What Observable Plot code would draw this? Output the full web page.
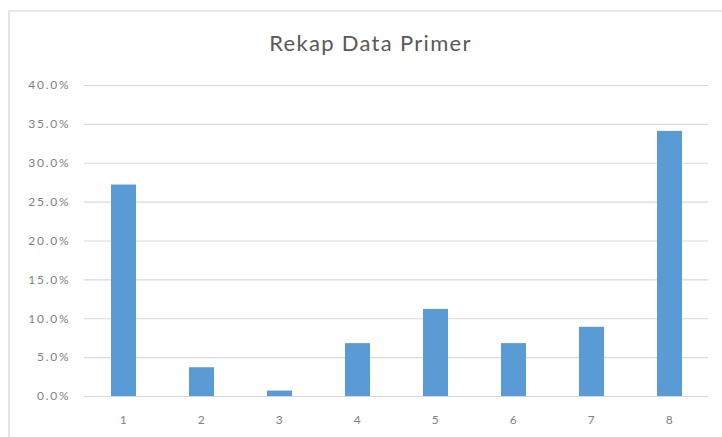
<!DOCTYPE html>
<html>
<head>
<meta charset="utf-8">
<script src="https://cdn.jsdelivr.net/npm/d3@7"></script>
<script src="https://cdn.jsdelivr.net/npm/@observablehq/plot@0.6"></script>
<style>
  html, body { margin: 0; padding: 0; background: #fff; }
  #chart { position: relative; width: 722px; height: 437px; overflow: hidden; font-family: Lato, "Open Sans", sans-serif; }
  #frame { position: absolute; left: 8px; top: 10px; width: 760px; height: 460px;
           border-left: 2px solid #e4e4e4; border-top: 2px solid #e8e8e8; box-sizing: border-box; }
  #title { position: absolute; left: 0; width: 741px; top: 32px; text-align: center;
           font-size: 22px; letter-spacing: 1.3px; color: #595959; line-height: 1; }
  #chart svg { position: absolute; left: 0; top: 0; }
  #chart svg g[aria-label="y-axis tick label"] text,
  #chart svg g[aria-label="x-axis tick label"] text { letter-spacing: 1.8px; }
</style>
</head>
<body>
<div id="chart">
  <div id="frame"></div>
  <div id="title">Rekap Data Primer</div>
</div>
<script>
// Survey categories and their share of responses
const categories = ["1", "2", "3", "4", "5", "6", "7", "8"];
const shares = [0.272, 0.037, 0.007, 0.068, 0.112, 0.068, 0.089, 0.341];
const yTicks = [0, 0.05, 0.10, 0.15, 0.20, 0.25, 0.30, 0.35, 0.40];

const rows = categories.map((c, i) => ({category: c, share: shares[i]}));
const pct = d3.format(".1%");

const plot = Plot.plot({
  width: 722,
  height: 437,
  marginLeft: 84,
  marginRight: 14,
  marginTop: 85,
  marginBottom: 41,
  style: {background: "transparent", fontFamily: "Lato, 'Open Sans', sans-serif"},
  x: {domain: categories, paddingInner: 0.68, paddingOuter: 0.34, label: null},
  y: {domain: [0, 0.4], label: null},
  marks: [
    Plot.ruleY(yTicks, {stroke: "#d9d9d9", strokeWidth: 1.2}),
    Plot.barY(rows, {x: "category", y: "share", fill: "#5b9bd5"}),
    Plot.axisY({ticks: yTicks, tickFormat: pct, tickSize: 0, tickPadding: 14,
                fontSize: 12, fill: "#7f7f7f", label: null}),
    Plot.axisX({tickSize: 0, tickPadding: 19, fontSize: 12, fill: "#7f7f7f", label: null})
  ]
});
document.getElementById("chart").appendChild(plot);
</script>
</body>
</html>
